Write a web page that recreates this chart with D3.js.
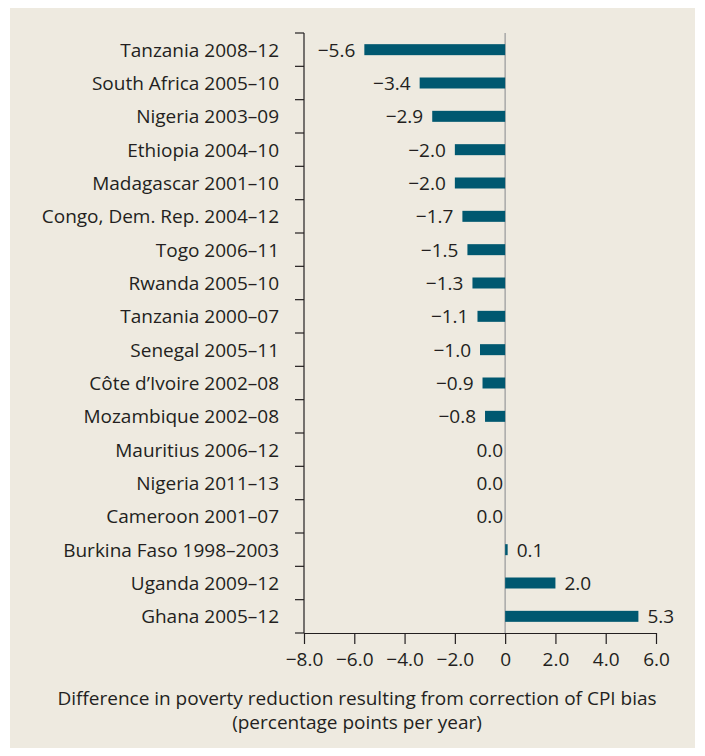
<!DOCTYPE html>
<html>
<head>
<meta charset="utf-8">
<script src="https://cdn.jsdelivr.net/npm/d3@7"></script>
<style>
  body { margin: 0; background: #fff; }
  svg { display: block; font-family: "Open Sans", sans-serif; }
</style>
</head>
<body>
<div id="chart"></div>
<script>
const categories = [
  "Tanzania 2008–12", "South Africa 2005–10", "Nigeria 2003–09", "Ethiopia 2004–10",
  "Madagascar 2001–10", "Congo, Dem. Rep. 2004–12", "Togo 2006–11", "Rwanda 2005–10",
  "Tanzania 2000–07", "Senegal 2005–11", "Côte d’Ivoire 2002–08", "Mozambique 2002–08",
  "Mauritius 2006–12", "Nigeria 2011–13", "Cameroon 2001–07", "Burkina Faso 1998–2003",
  "Uganda 2009–12", "Ghana 2005–12"
];
const values = [-5.6, -3.4, -2.9, -2.0, -2.0, -1.7, -1.5, -1.3, -1.1, -1.0, -0.9, -0.8, 0.0, 0.0, 0.0, 0.1, 2.0, 5.3];
const xTicks = [-8, -6, -4, -2, 0, 2, 4, 6];
const xTitle = ["Difference in poverty reduction resulting from correction of CPI bias", "(percentage points per year)"];

const width = 705, height = 756;
const margin = {left: 304, right: 49, top: 33, bottom: 123};
const fs = 19;

const svg = d3.select("#chart").append("svg")
  .attr("width", width)
  .attr("height", height);

svg.append("rect")
  .attr("x", 10).attr("y", 8)
  .attr("width", 685).attr("height", 740)
  .attr("fill", "#eeeae0");

const x = d3.scaleLinear().domain([-8, 6]).range([margin.left, width - margin.right]);
const y = d3.scaleBand().domain(categories).range([margin.top, height - margin.bottom]);

const fmt = v => (v < 0 ? "\u2212" : "") + Math.abs(v).toFixed(1);

// zero line
svg.append("line")
  .attr("x1", x(0)).attr("x2", x(0))
  .attr("y1", y.range()[0]).attr("y2", y.range()[1])
  .attr("stroke", "#a8a8a8").attr("stroke-width", 1.5);

// bars
const barH = 11;
svg.append("g").selectAll("rect")
  .data(values)
  .join("rect")
  .attr("x", d => Math.min(x(0), x(d)))
  .attr("y", (d, i) => y(categories[i]) + y.bandwidth() / 2 - barH / 2)
  .attr("width", d => Math.abs(x(d) - x(0)))
  .attr("height", barH)
  .attr("fill", "#005870");

// value labels
svg.append("g").selectAll("text")
  .data(values)
  .join("text")
  .attr("x", d => d > 0 ? x(d) + 9 : (d < 0 ? x(d) - 9 : x(0) - 2))
  .attr("y", (d, i) => y(categories[i]) + y.bandwidth() / 2)
  .attr("dy", "0.36em")
  .attr("text-anchor", d => d > 0 ? "start" : "end")
  .attr("font-size", fs)
  .attr("fill", "#231f20")
  .text(fmt);

// y axis
const yAxis = svg.append("g")
  .attr("transform", `translate(${margin.left},0)`);
yAxis.append("line")
  .attr("y1", y.range()[0]).attr("y2", y.range()[1])
  .attr("stroke", "#231f20").attr("stroke-width", 1.2);
yAxis.selectAll(".tk")
  .data(categories.map(c => y(c)).concat([y.range()[1]]))
  .join("line")
  .attr("x1", -9).attr("x2", 0)
  .attr("y1", d => d).attr("y2", d => d)
  .attr("stroke", "#231f20").attr("stroke-width", 1.2);
yAxis.selectAll("text")
  .data(categories)
  .join("text")
  .attr("x", -25)
  .attr("y", d => y(d) + y.bandwidth() / 2)
  .attr("dy", "0.36em")
  .attr("text-anchor", "end")
  .attr("font-size", fs)
  .attr("fill", "#231f20")
  .text(d => d);

// x axis
const xAxis = svg.append("g")
  .attr("transform", `translate(0,${height - margin.bottom})`)
  .call(d3.axisBottom(x).tickValues(xTicks).tickSize(11).tickSizeOuter(0)
    .tickFormat(d => d === 0 ? "0" : fmt(d)));
xAxis.select(".domain").attr("stroke", "#231f20").attr("stroke-width", 1.2);
xAxis.selectAll(".tick line").attr("stroke", "#231f20").attr("stroke-width", 1.2);
xAxis.selectAll(".tick text")
  .attr("font-size", fs)
  .attr("font-family", "\"Open Sans\", sans-serif")
  .attr("fill", "#231f20")
  .attr("y", 20);

// axis title
svg.append("g").selectAll("text")
  .data(xTitle)
  .join("text")
  .attr("x", 357)
  .attr("y", (d, i) => 705 + i * 24)
  .attr("text-anchor", "middle")
  .attr("font-size", fs)
  .attr("fill", "#231f20")
  .text(d => d);
</script>
</body>
</html>
